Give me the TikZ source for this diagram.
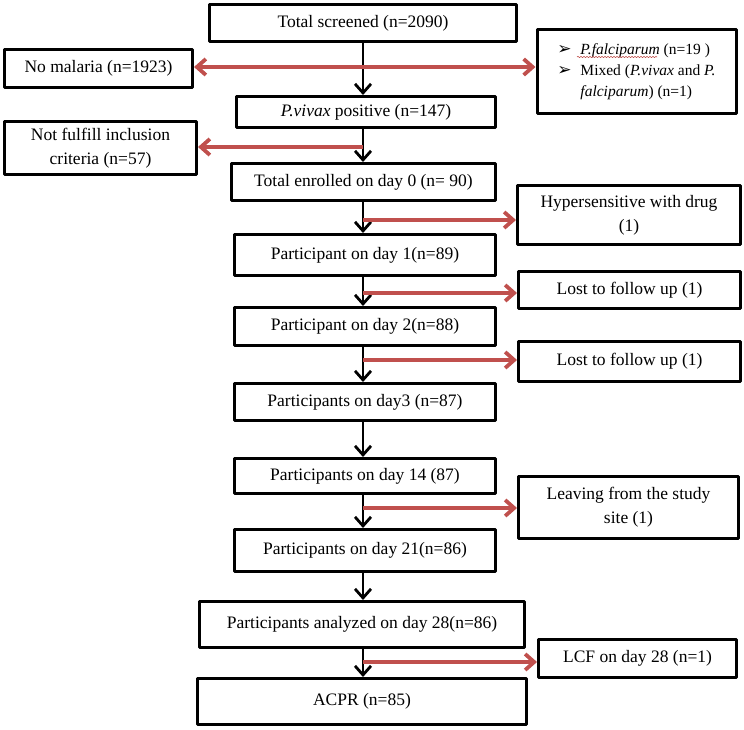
\documentclass[tikz,border=0pt]{standalone}
\usepackage{fontspec}
\setmainfont{Liberation Serif}
\newfontfamily\symfont{DejaVu Sans}
\usetikzlibrary{arrows.meta,decorations.pathmorphing}
\definecolor{arrowred}{RGB}{192,80,77}
\newcommand{\bul}{\makebox[23pt][l]{\symfont\fontsize{17}{17}\selectfont ➢}}
\begin{document}
\begin{tikzpicture}[x=1pt,y=-1pt,>={Straight Barb[length=9pt,width=16pt]},
  font=\fontsize{17.5}{24}\selectfont, line join=round,
  box/.style={draw, line width=3pt, align=center, inner sep=0pt},
  down/.style={->, line width=2.8pt},
  side/.style={->, line width=3.8pt, arrowred}]
\useasboundingbox (0,0) rectangle (744,730);
\coordinate (axis) at (363,0);
\node[box, minimum width=307pt, minimum height=37pt] (ts) at (363,23) {Total screened (n=2090)};
\node[box, minimum width=188pt, minimum height=38pt] (nomal) at (98.5,68.5) {No malaria (n=1923)};
\node[box, minimum width=199pt, minimum height=84pt, align=left, inner xsep=16pt,
  font=\fontsize{15.5}{21}\selectfont] (falc) at (636.5,71.5)
  {\bul\textit{P.falciparum} (n=19 )\\\bul Mixed (\textit{P.vivax} and \textit{P.}\\\hspace*{23pt}\textit{falciparum}) (n=1)};
\node[box, minimum width=259pt, minimum height=31pt] (viv) at (366,112) {\textit{P.vivax} positive (n=147)};
\node[box, minimum width=192pt, minimum height=53pt] (nf) at (100.5,148) {Not fulfill inclusion\\criteria (n=57)};
\node[box, minimum width=264pt, minimum height=37pt] (enr) at (363.5,182) {Total enrolled on day 0 (n= 90)};
\node[box, minimum width=223pt, minimum height=59pt] (hyp) at (629,215) {Hypersensitive with drug\\(1)};
\node[box, minimum width=261pt, minimum height=41pt] (d1) at (365,255) {Participant on day 1(n=89)};
\node[box, minimum width=222pt, minimum height=37pt] (lost1) at (629.5,290) {Lost to follow up (1)};
\node[box, minimum width=261pt, minimum height=38pt] (d2) at (365,326.5) {Participant on day 2(n=88)};
\node[box, minimum width=222pt, minimum height=40pt] (lost2) at (629.5,361.5) {Lost to follow up (1)};
\node[box, minimum width=261pt, minimum height=37pt] (d3) at (365,402) {Participants on day3 (n=87)};
\node[box, minimum width=261pt, minimum height=35pt] (d14) at (365,476) {Participants on day 14 (87)};
\node[box, minimum width=220pt, minimum height=62pt] (leave) at (628.5,507.5) {Leaving from the study\\site (1)};
\node[box, minimum width=261pt, minimum height=42pt] (d21) at (365,550.5) {Participants on day 21(n=86)};
\node[box, minimum width=325pt, minimum height=46pt] (ana) at (362,624.5) {Participants analyzed on day 28(n=86)};
\node[box, minimum width=198pt, minimum height=38pt] (lcf) at (637.5,658.5) {LCF on day 28 (n=1)};
\node[box, minimum width=329pt, minimum height=46pt] (acpr) at (362,701.5) {ACPR (n=85)};
\draw[arrowred, line width=0.6pt, decorate, decoration={snake, amplitude=0.7pt, segment length=3pt}]
  (577,57) -- (657,57);
\draw[down] (axis |- ts.south) -- (axis |- viv.north);
\draw[down] (axis |- viv.south) -- (axis |- enr.north);
\draw[down] (axis |- enr.south) -- (axis |- d1.north);
\draw[down] (axis |- d1.south) -- (axis |- d2.north);
\draw[down] (axis |- d2.south) -- (axis |- d3.north);
\draw[down] (axis |- d3.south) -- (axis |- d14.north);
\draw[down] (axis |- d14.south) -- (axis |- d21.north);
\draw[down] (axis |- d21.south) -- (axis |- ana.north);
\draw[down] (axis |- ana.south) -- (axis |- acpr.north);
\coordinate (b0) at (363,67);
\coordinate (b2) at (363,147);
\coordinate (b3) at (363,220);
\coordinate (b4) at (363,293);
\coordinate (b5) at (363,360);
\coordinate (b6) at (363,508);
\coordinate (b7) at (363,662);
\draw[side, <->] (b0 -| nomal.east) -- (b0 -| falc.west);
\draw[side] (b2) -- (b2 -| nf.east);
\draw[side] (b3) -- (b3 -| hyp.west);
\draw[side] (b4) -- (b4 -| lost1.west);
\draw[side] (b5) -- (b5 -| lost2.west);
\draw[side] (b6) -- (b6 -| leave.west);
\draw[side] (b7) -- (b7 -| lcf.west);
\end{tikzpicture}
\end{document}
